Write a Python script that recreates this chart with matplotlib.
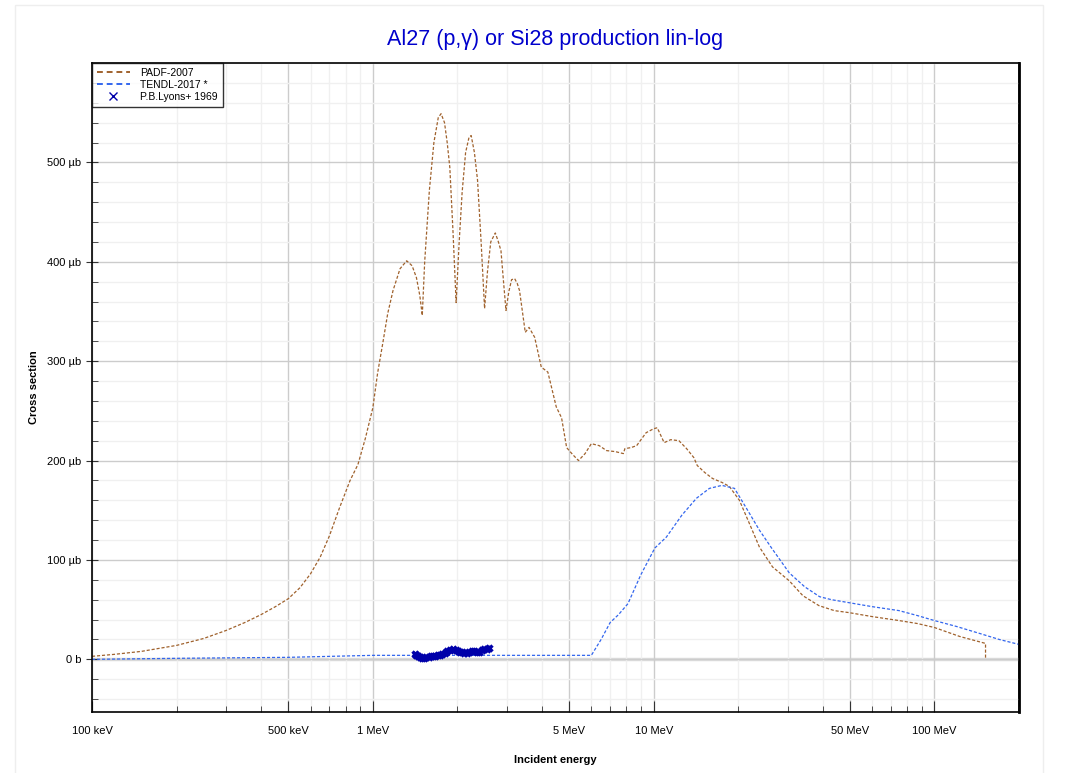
import numpy as np
import matplotlib
matplotlib.use('Agg')
import matplotlib.pyplot as plt
from matplotlib.ticker import FixedLocator, MultipleLocator, NullFormatter
from matplotlib.patches import Rectangle

plt.rcParams['font.family'] = ['Liberation Sans', 'DejaVu Sans']

# PADF-2007 (energy in MeV, cross section in microbarn)
padf_e = [0.1, 0.12, 0.15, 0.2, 0.25, 0.3, 0.35, 0.4, 0.45, 0.5, 0.55, 0.6, 0.65,
          0.7, 0.76, 0.83, 0.885, 0.94, 1.0, 1.04, 1.085, 1.13, 1.18, 1.25, 1.32,
          1.38, 1.43, 1.47, 1.5, 1.53, 1.59, 1.65, 1.71, 1.75, 1.80, 1.84, 1.88,
          1.93, 1.98, 2.03, 2.08, 2.14, 2.2, 2.24, 2.30, 2.36, 2.43, 2.5, 2.56,
          2.63, 2.73, 2.8, 2.86, 2.92, 2.98, 3.05, 3.12, 3.2, 3.27, 3.33, 3.49,
          3.6, 3.77, 3.98, 4.2, 4.5, 4.7, 4.9, 5.15, 5.4, 5.7, 6.0, 6.4, 6.8, 7.3,
          7.8, 7.9, 8.3, 8.7, 9.4, 10.0, 10.3, 10.9, 11.5, 12.3, 13.1, 13.9, 14.3,
          15.2, 16.2, 17.5, 18.6, 20.2, 21.9, 23.8, 26.5, 30.4, 34.0, 38.8, 44.0,
          49.6, 60.0, 74.8, 87.0, 100.0, 123.0, 152.0, 152.0]
padf_xs = [3, 5, 8, 14, 21, 29, 37, 45, 53, 61, 72, 86, 103,
           124, 152, 180, 196, 222, 253, 288, 318, 348, 371, 393, 401,
           396, 384, 366, 346, 400, 472, 520, 545, 549, 540, 520, 495,
           430, 359, 420, 470, 510, 525, 527, 510, 482, 420, 353, 390,
           420, 429, 420, 411, 380, 351, 370, 382, 383, 378, 371, 329,
           334, 324, 294, 289, 254, 243, 213, 206, 200, 207, 217, 215, 210, 209,
           207, 212, 213, 215, 228, 232, 233, 218, 221, 220, 212, 203, 195,
           188, 182, 178, 174, 160, 137, 113, 93, 79, 64, 54, 49,
           47, 43, 39, 36, 32, 23, 16, 0]

# TENDL-2017
tendl_e = [0.1, 0.2, 0.5, 1.0, 2.0, 4.0, 6.0, 6.5, 7.0, 7.5, 8.1, 9.0, 10.1, 11.1,
           12.6, 14.2, 15.8, 17.5, 19.4, 21.4, 23.8, 26.3, 30.4, 34.5, 39.0, 43.0,
           49.6, 60.0, 74.8, 87.0, 100.0, 120.0, 145.0, 170.0, 200.0]
tendl_xs = [0, 1, 2, 4, 4, 4, 4, 20, 37, 45, 56, 85, 112, 123,
            145, 162, 172, 175, 172, 152, 130, 112, 87, 73, 63, 60,
            57, 53, 49, 44, 39, 33, 26, 20, 15]

# P.B.Lyons+ 1969
lyons_e = [1.41, 1.43, 1.45, 1.47, 1.50, 1.52, 1.55, 1.58, 1.61, 1.64, 1.67, 1.70,
           1.74, 1.77, 1.80, 1.84, 1.88, 1.93, 1.97, 2.01, 2.04, 2.08, 2.12, 2.16,
           2.20, 2.25, 2.30, 2.34, 2.39, 2.44, 2.49, 2.54, 2.60]
lyons_xs = [5, 4, 3, 2, 1, 1, 2, 2, 3, 3, 3, 4,
            4, 5, 6, 8, 9, 10, 9, 8, 7, 7, 6, 6,
            7, 8, 8, 7, 7, 9, 10, 10, 11]

x_ticks = [0.1, 0.5, 1, 5, 10, 50, 100]
x_labels = ['100 keV', '500 keV', '1 MeV', '5 MeV', '10 MeV', '50 MeV', '100 MeV']
y_ticks = [0, 100, 200, 300, 400, 500]
y_labels = ['0 b', '100 µb', '200 µb', '300 µb', '400 µb', '500 µb']

fig = plt.figure(figsize=(10.67, 7.73), dpi=100)
ax = fig.add_axes([92/1067, 1 - 712/773, (1019-92)/1067, (712-63)/773])

# faint frame around figure
fig.patches.append(Rectangle((15/1067, -0.01), (1043-15)/1067, 1 - 5/773 + 0.01,
                             transform=fig.transFigure, fill=False,
                             edgecolor='#eeeeee', linewidth=1))

ax.plot(padf_e, padf_xs, color='#a0622d', linestyle=(0, (2.5, 1.5)), linewidth=0.9,
        label='PADF-2007')
ax.plot(tendl_e, tendl_xs, color='#3366ee', linestyle=(0, (2.5, 1.5)), linewidth=0.9,
        label='TENDL-2017 *')
ax.plot(lyons_e, lyons_xs, color='#0000aa', linestyle='none', marker='x', markersize=5,
        markeredgewidth=2.4, label='P.B.Lyons+ 1969')

ax.set_xscale('log')
ax.set_xlim(0.1, 200)
ax.set_ylim(-53, 600)

ax.xaxis.set_major_locator(FixedLocator(x_ticks))
ax.set_xticklabels(x_labels)
minor_x = [m * 10.0**d for d in range(-1, 3) for m in range(2, 10) if m != 5]
ax.xaxis.set_minor_locator(FixedLocator(minor_x))
ax.xaxis.set_minor_formatter(NullFormatter())
ax.yaxis.set_major_locator(FixedLocator(y_ticks))
ax.set_yticklabels(y_labels)
ax.yaxis.set_minor_locator(MultipleLocator(20))

ax.grid(which='major', color='#cccccc', linewidth=1)
ax.grid(which='minor', color='#f0f0f0', linewidth=1)
ax.axhline(0, color='#dddddd', linewidth=2.5, zorder=0.5)
ax.set_axisbelow(True)

ax.tick_params(axis='both', which='both', labelsize=8, colors='#333333',
               labelcolor='black')
ax.tick_params(axis='x', which='major', direction='in', length=8, pad=10)
ax.tick_params(axis='x', which='minor', direction='in', length=4)
ax.tick_params(axis='y', which='major', direction='inout', length=8)
ax.tick_params(axis='y', which='minor', direction='in', length=4)

# right-hand ticks, pointing inward
sec = ax.secondary_yaxis('right')
sec.yaxis.set_major_locator(FixedLocator(y_ticks))
sec.yaxis.set_minor_locator(MultipleLocator(20))
sec.tick_params(which='major', direction='in', length=6, labelright=False, colors='#333333')
sec.tick_params(which='minor', direction='in', length=4, colors='#333333')
sec.spines['right'].set_linewidth(2)

for s in ax.spines.values():
    s.set_linewidth(1.2)

ax.set_title('Al27 (p,γ) or Si28 production lin-log', color='#0000cc', fontsize=15.5,
             pad=13)
ax.set_xlabel('Incident energy', fontweight='bold', fontsize=8, labelpad=14)
ax.set_ylabel('Cross section', fontweight='bold', fontsize=8, labelpad=6)

leg = ax.legend(loc='upper left', fontsize=7.5, frameon=True, fancybox=False,
                borderaxespad=0, handlelength=3.2, handletextpad=1.0,
                borderpad=0.45, labelspacing=0.2)
leg.get_frame().set_edgecolor('black')
leg.get_frame().set_linewidth(1)
for h in leg.legend_handles[:2]:
    h.set_linestyle((0, (3, 2)))
    h.set_linewidth(1.4)
leg.legend_handles[2].set_markeredgewidth(1)
leg.legend_handles[2].set_markersize(6)

fig.savefig('out.png', dpi=100)
